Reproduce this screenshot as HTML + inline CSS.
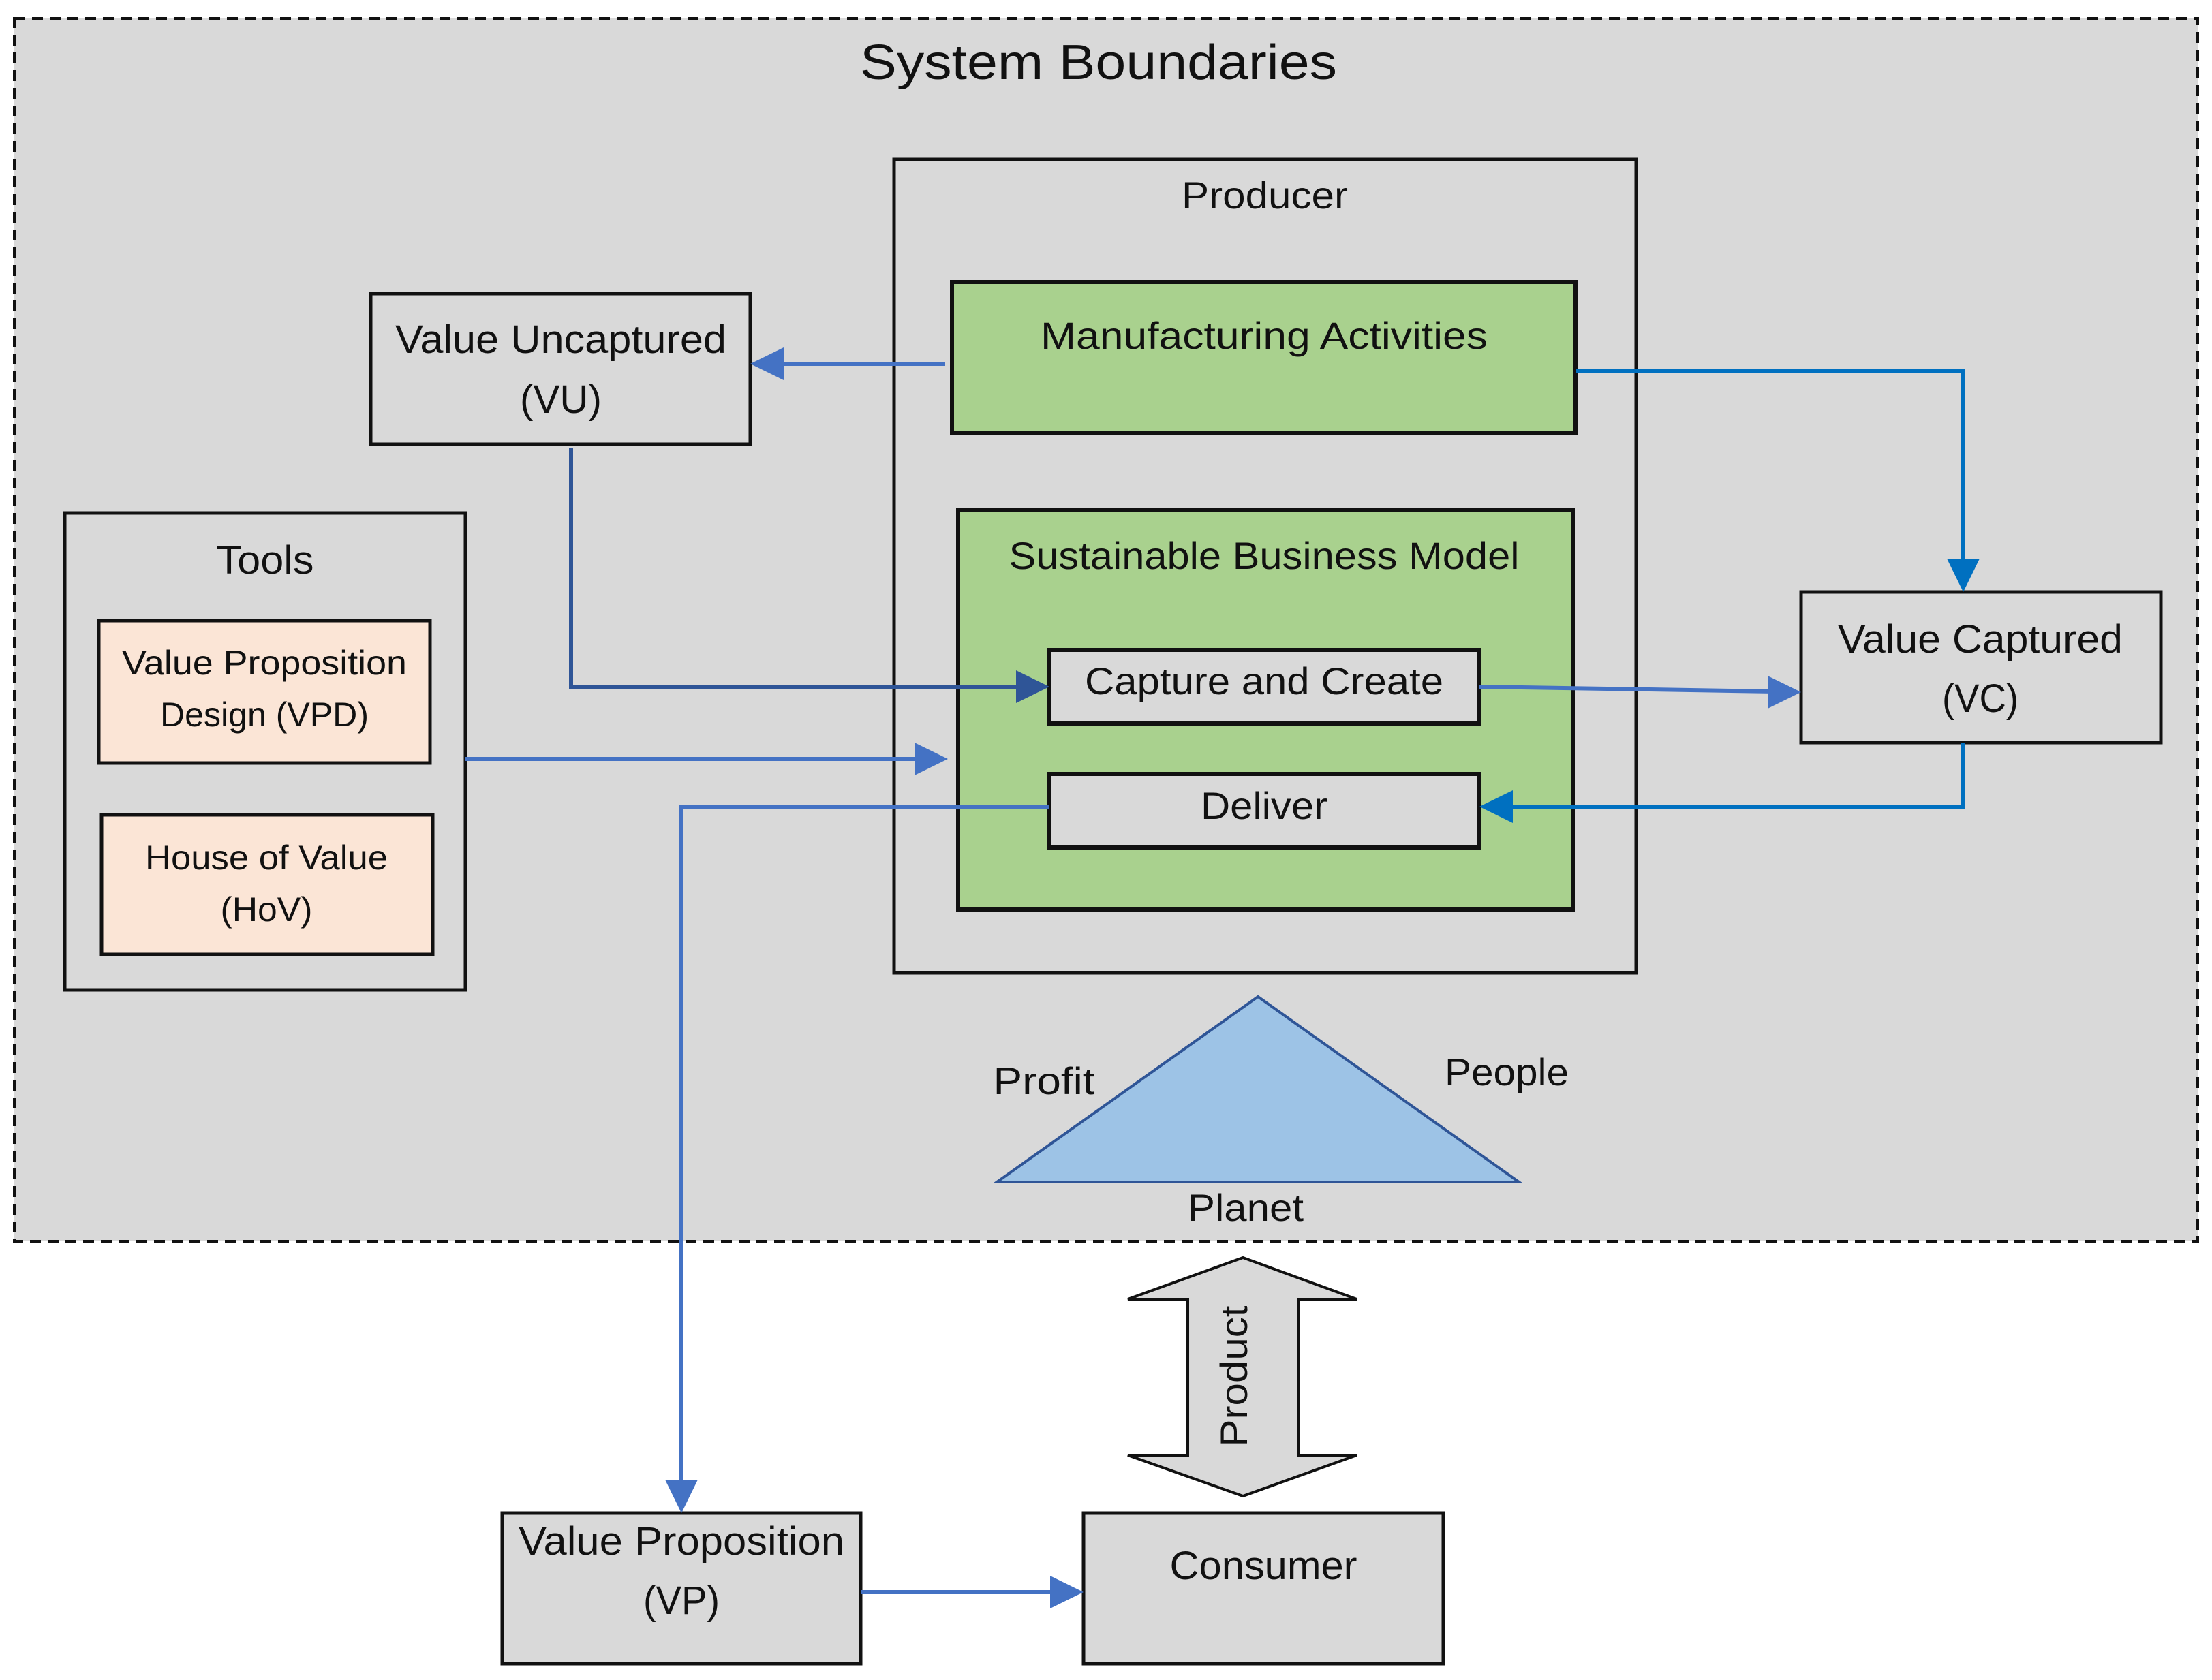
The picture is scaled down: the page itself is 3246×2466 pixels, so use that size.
<!DOCTYPE html>
<html><head><meta charset="utf-8"><style>html,body{margin:0;padding:0;background:#fff}svg{display:block}text{font-family:"Liberation Sans",sans-serif;fill:#111}</style></head>
<body>
<svg width="3246" height="2466" viewBox="0 0 3246 2466" xmlns="http://www.w3.org/2000/svg">
<defs>
<marker id="a1" markerWidth="10" markerHeight="10" refX="7" refY="5" orient="auto" markerUnits="userSpaceOnUse" viewBox="0 0 10 10"><path d="M0,0 L10,5 L0,10 z" fill="#4472c4"/></marker>
</defs>
<!-- system boundary -->
<rect x="21" y="27" width="3204" height="1795" fill="#d9d9d9" stroke="#111" stroke-width="4" stroke-dasharray="16,10"/>
<text x="1612" y="116" font-size="72" text-anchor="middle" textLength="700" lengthAdjust="spacingAndGlyphs">System Boundaries</text>
<!-- producer -->
<rect x="1312" y="234" width="1089" height="1194" fill="none" stroke="#111" stroke-width="5"/>
<text x="1856" y="306" font-size="56" text-anchor="middle" textLength="244" lengthAdjust="spacingAndGlyphs">Producer</text>
<rect x="1397" y="414" width="915" height="221" fill="#a9d18e" stroke="#111" stroke-width="6"/>
<text x="1855" y="512" font-size="56" text-anchor="middle" textLength="656" lengthAdjust="spacingAndGlyphs">Manufacturing Activities</text>
<rect x="1406" y="749" width="902" height="586" fill="#a9d18e" stroke="#111" stroke-width="6"/>
<text x="1855" y="835" font-size="56" text-anchor="middle" textLength="749" lengthAdjust="spacingAndGlyphs">Sustainable Business Model</text>
<rect x="1540" y="954" width="631" height="108" fill="#d9d9d9" stroke="#111" stroke-width="6"/>
<text x="1855" y="1019" font-size="56" text-anchor="middle" textLength="526" lengthAdjust="spacingAndGlyphs">Capture and Create</text>
<rect x="1540" y="1136" width="631" height="108" fill="#d9d9d9" stroke="#111" stroke-width="6"/>
<text x="1855" y="1202" font-size="56" text-anchor="middle" textLength="186" lengthAdjust="spacingAndGlyphs">Deliver</text>
<!-- VU -->
<rect x="544" y="431" width="557" height="221" fill="#d9d9d9" stroke="#111" stroke-width="5"/>
<text x="823" y="518" font-size="58" text-anchor="middle" textLength="486" lengthAdjust="spacingAndGlyphs">Value Uncaptured</text>
<text x="823" y="606" font-size="58" text-anchor="middle" textLength="120" lengthAdjust="spacingAndGlyphs">(VU)</text>
<!-- tools -->
<rect x="95" y="753" width="588" height="700" fill="#d9d9d9" stroke="#111" stroke-width="5"/>
<text x="389" y="842" font-size="58" text-anchor="middle" textLength="143" lengthAdjust="spacingAndGlyphs">Tools</text>
<rect x="145" y="911" width="486" height="209" fill="#fbe5d6" stroke="#111" stroke-width="5"/>
<text x="388" y="990" font-size="50" text-anchor="middle" textLength="418" lengthAdjust="spacingAndGlyphs">Value Proposition</text>
<text x="388" y="1066" font-size="50" text-anchor="middle" textLength="306" lengthAdjust="spacingAndGlyphs">Design (VPD)</text>
<rect x="149" y="1196" width="486" height="205" fill="#fbe5d6" stroke="#111" stroke-width="5"/>
<text x="391" y="1276" font-size="50" text-anchor="middle" textLength="356" lengthAdjust="spacingAndGlyphs">House of Value</text>
<text x="391" y="1352" font-size="50" text-anchor="middle" textLength="135" lengthAdjust="spacingAndGlyphs">(HoV)</text>
<!-- VC -->
<rect x="2643" y="869" width="528" height="221" fill="#d9d9d9" stroke="#111" stroke-width="5"/>
<text x="2906" y="958" font-size="58" text-anchor="middle" textLength="418" lengthAdjust="spacingAndGlyphs">Value Captured</text>
<text x="2906" y="1045" font-size="58" text-anchor="middle" textLength="112" lengthAdjust="spacingAndGlyphs">(VC)</text>
<!-- triangle -->
<polygon points="1846,1463 1463,1735 2229,1735" fill="#9dc3e6" stroke="#2f5597" stroke-width="4"/>
<text x="1532" y="1606" font-size="56" text-anchor="middle" textLength="149" lengthAdjust="spacingAndGlyphs">Profit</text>
<text x="2211" y="1593" font-size="56" text-anchor="middle" textLength="182" lengthAdjust="spacingAndGlyphs">People</text>
<text x="1828" y="1792" font-size="56" text-anchor="middle" textLength="170" lengthAdjust="spacingAndGlyphs">Planet</text>
<!-- product arrow -->
<polygon points="1824,1846 1991,1907 1905,1907 1905,2136 1991,2136 1824,2196 1655,2136 1743,2136 1743,1907 1655,1907" fill="#d9d9d9" stroke="#111" stroke-width="4"/>
<text transform="translate(1830,2020) rotate(-90)" font-size="56" text-anchor="middle" textLength="207" lengthAdjust="spacingAndGlyphs">Product</text>
<!-- VP / consumer -->
<rect x="737" y="2221" width="526" height="221" fill="#d9d9d9" stroke="#111" stroke-width="5"/>
<text x="1000" y="2282" font-size="58" text-anchor="middle" textLength="478" lengthAdjust="spacingAndGlyphs">Value Proposition</text>
<text x="1000" y="2369" font-size="58" text-anchor="middle" textLength="112" lengthAdjust="spacingAndGlyphs">(VP)</text>
<rect x="1590" y="2221" width="528" height="221" fill="#d9d9d9" stroke="#111" stroke-width="5"/>
<text x="1854" y="2318" font-size="58" text-anchor="middle" textLength="275" lengthAdjust="spacingAndGlyphs">Consumer</text>
<!-- connectors -->
<g fill="none" stroke-width="6">
<path d="M1387,534 H1140" stroke="#4472c4"/>
<path d="M2312,544 H2881 V830" stroke="#0070c0"/>
<path d="M838,658 V1008 H1500" stroke="#2f5597"/>
<path d="M2171,1008 L2605,1015" stroke="#4472c4"/>
<path d="M683,1114 H1350" stroke="#4472c4"/>
<path d="M2881,1090 V1184 H2210" stroke="#0070c0"/>
<path d="M1540,1184 H1000 V2180" stroke="#4472c4"/>
<path d="M1263,2337 H1550" stroke="#4472c4"/>
</g>
<g>
<polygon points="1101,534 1150,510 1150,558" fill="#4472c4"/>
<polygon points="2881,869 2857,820 2905,820" fill="#0070c0"/>
<polygon points="1540,1008 1491,984 1491,1032" fill="#2f5597"/>
<polygon points="2643,1016 2594,992 2594,1040" fill="#4472c4"/>
<polygon points="1391,1114 1342,1090 1342,1138" fill="#4472c4"/>
<polygon points="2171,1184 2220,1160 2220,1208" fill="#0070c0"/>
<polygon points="1000,2221 976,2172 1024,2172" fill="#4472c4"/>
<polygon points="1590,2337 1541,2313 1541,2361" fill="#4472c4"/>
</g>
</svg>
</body></html>
